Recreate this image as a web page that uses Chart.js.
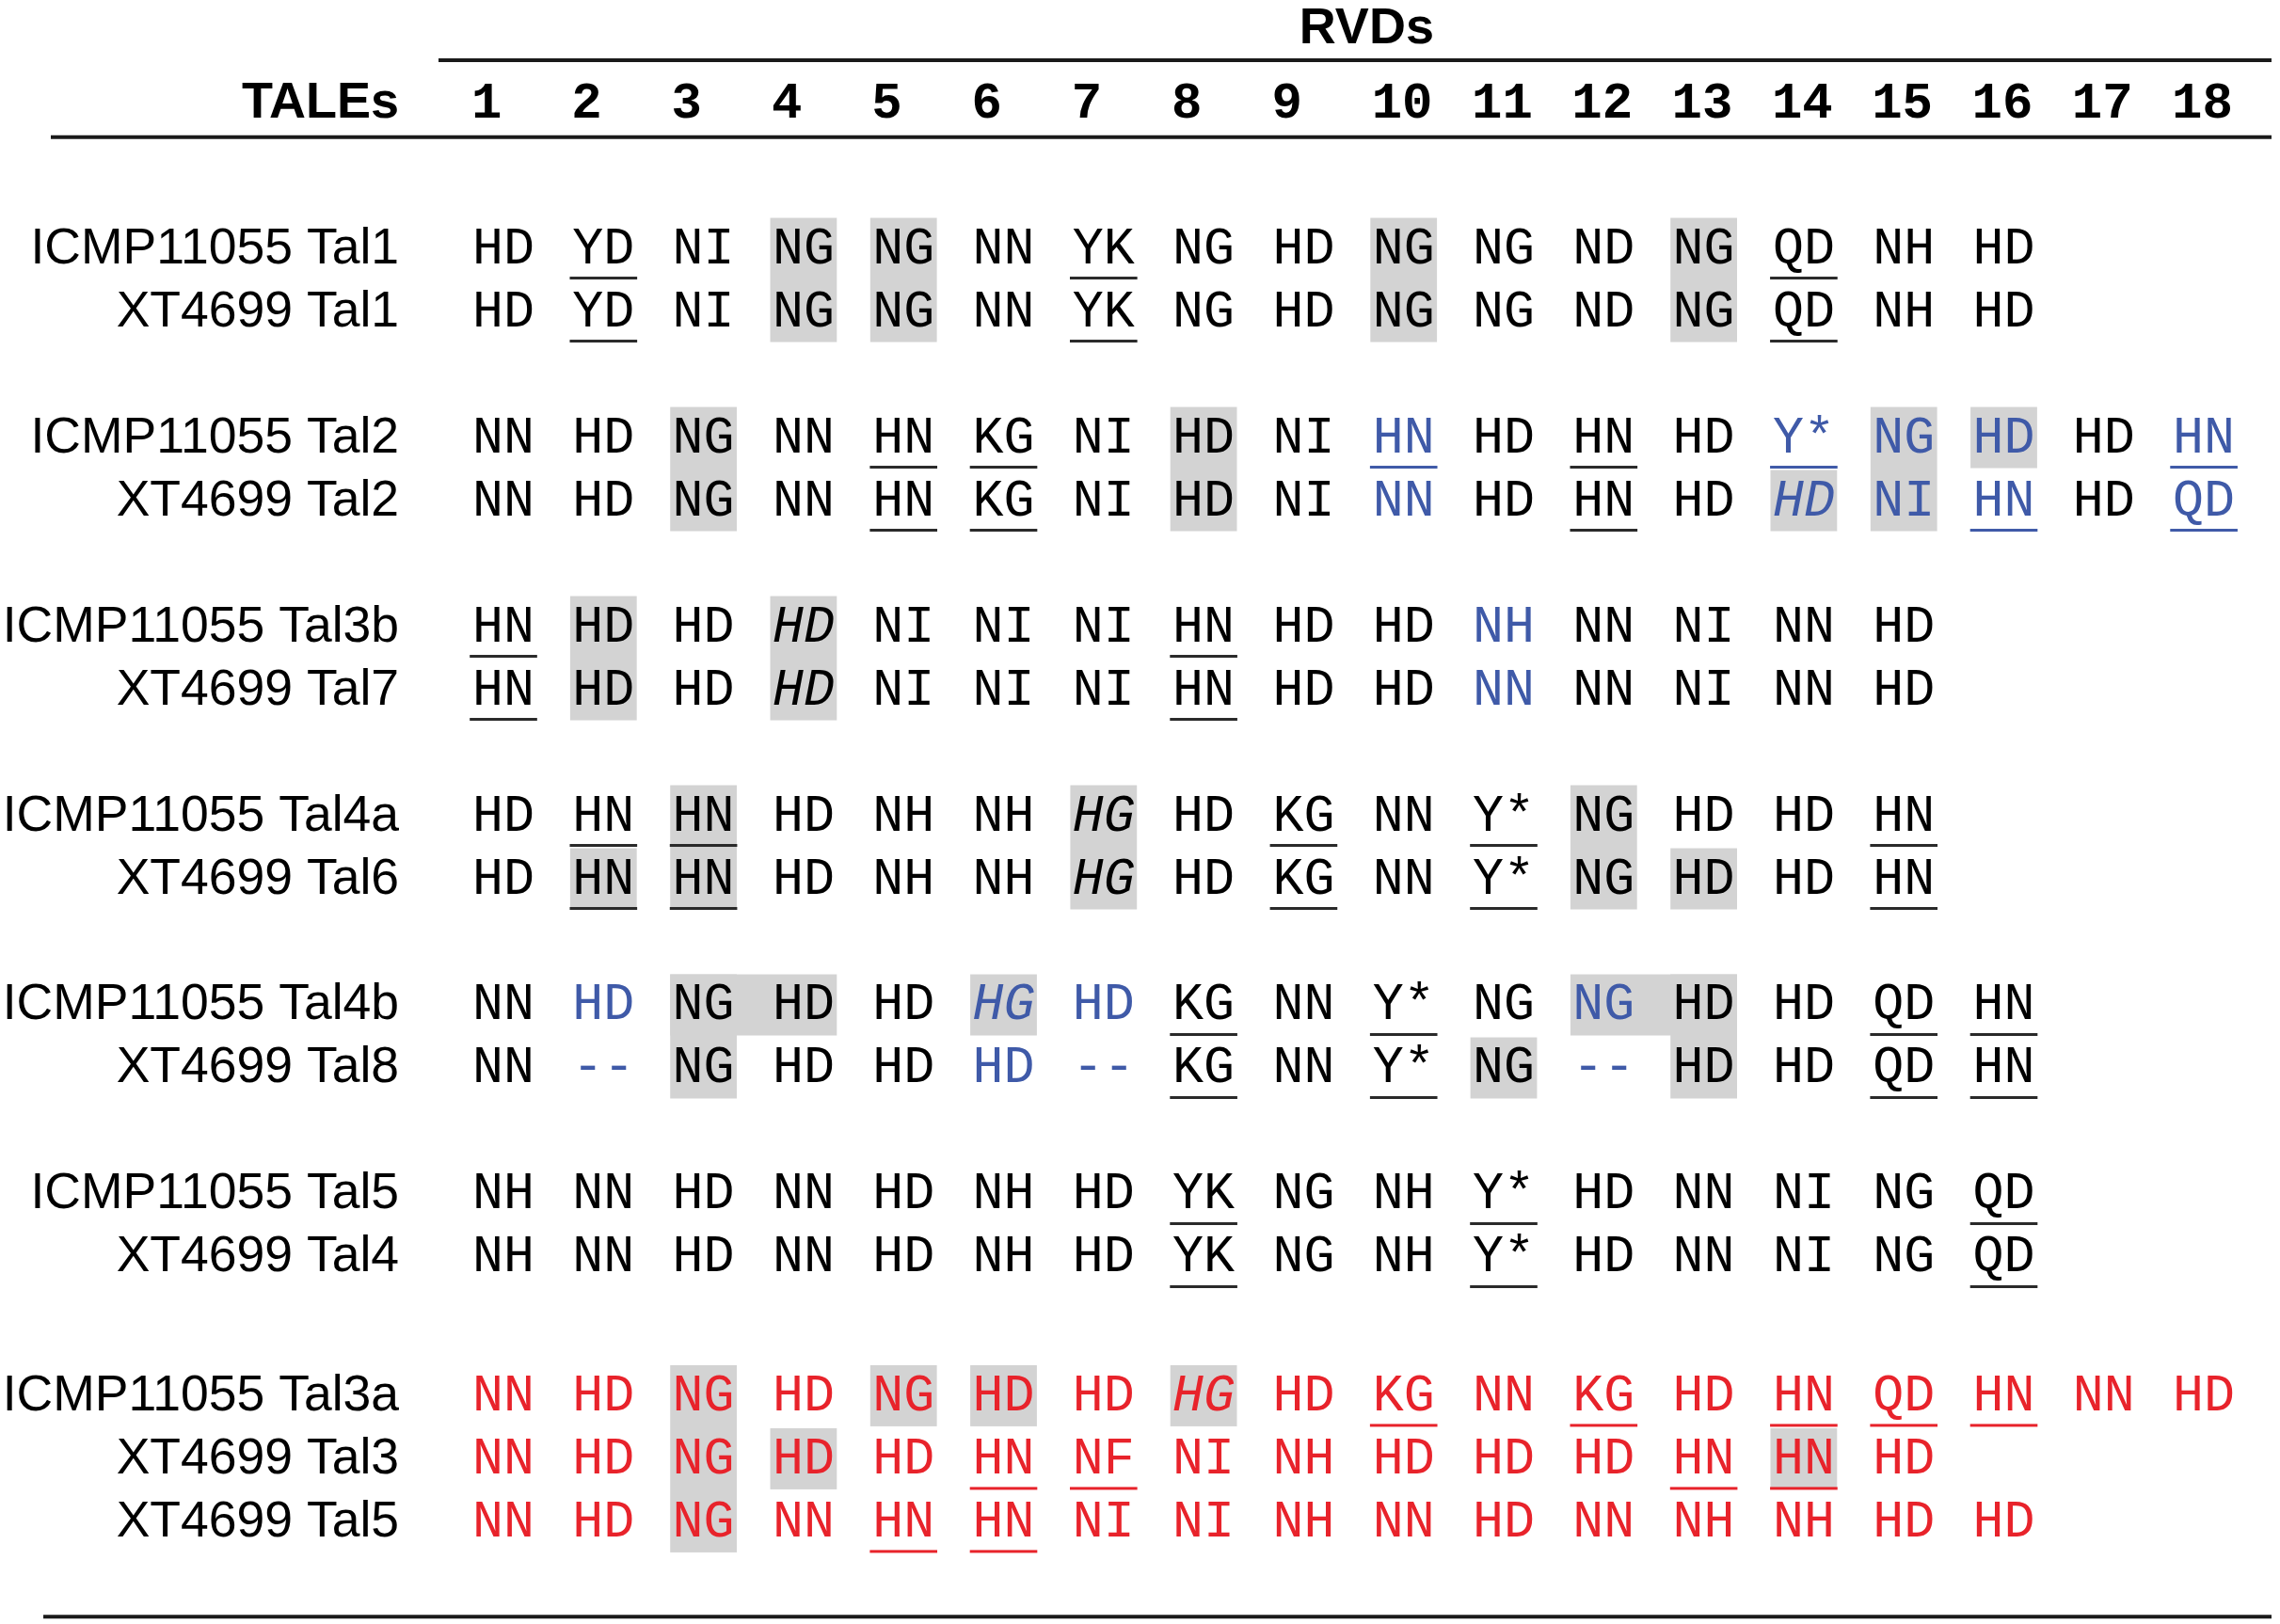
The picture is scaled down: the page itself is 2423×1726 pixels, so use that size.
<!DOCTYPE html>
<html><head><meta charset="UTF-8">
<title>TALE RVD alignment</title>
<script src="https://cdn.jsdelivr.net/npm/chart.js@4/dist/chart.umd.min.js"></script>
<style>
  html, body { margin: 0; padding: 0; background: #fff; }
  canvas { display: block; }
</style>
</head>
<body>
<canvas id="rvd-chart" width="2423" height="1726"></canvas>
<script>
// column headings (RVD positions)
var rvdNumbers = ['1', '2', '3', '4', '5', '6', '7', '8', '9', '10', '11', '12', '13', '14', '15', '16', '17', '18'];

var taleNames = [
  'ICMP11055 Tal1', 'XT4699 Tal1',
  'ICMP11055 Tal2', 'XT4699 Tal2',
  'ICMP11055 Tal3b', 'XT4699 Tal7',
  'ICMP11055 Tal4a', 'XT4699 Tal6',
  'ICMP11055 Tal4b', 'XT4699 Tal8',
  'ICMP11055 Tal5', 'XT4699 Tal4',
  'ICMP11055 Tal3a', 'XT4699 Tal3', 'XT4699 Tal5'
];

// one slot per text line, a blank slot between groups
var rowSlots = [0, 1, 3, 4, 6, 7, 9, 10, 12, 13, 15, 16, 18.2, 19.2, 20.2];

var rvdRows = [
  'HD YD NI NG NG NN YK NG HD NG NG ND NG QD NH HD',
  'HD YD NI NG NG NN YK NG HD NG NG ND NG QD NH HD',
  'NN HD NG NN HN KG NI HD NI HN HD HN HD Y* NG HD HD HN',
  'NN HD NG NN HN KG NI HD NI NN HD HN HD HD NI HN HD QD',
  'HN HD HD HD NI NI NI HN HD HD NH NN NI NN HD',
  'HN HD HD HD NI NI NI HN HD HD NN NN NI NN HD',
  'HD HN HN HD NH NH HG HD KG NN Y* NG HD HD HN',
  'HD HN HN HD NH NH HG HD KG NN Y* NG HD HD HN',
  'NN HD NG HD HD HG HD KG NN Y* NG NG HD HD QD HN',
  'NN -- NG HD HD HD -- KG NN Y* NG -- HD HD QD HN',
  'NH NN HD NN HD NH HD YK NG NH Y* HD NN NI NG QD',
  'NH NN HD NN HD NH HD YK NG NH Y* HD NN NI NG QD',
  'NN HD NG HD NG HD HD HG HD KG NN KG HD HN QD HN NN HD',
  'NN HD NG HD HD HN NF NI NH HD HD HD HN HN HD',
  'NN HD NG NN HN HN NI NI NH NN HD NN NH NH HD HD'
].map(function(s) { return s.split(' '); });

// underlined RVD columns, per row
var underlined = [
  [2, 7, 14], [2, 7, 14],
  [5, 6, 10, 12, 14, 18], [5, 6, 12, 16, 18],
  [1, 8], [1, 8],
  [2, 3, 9, 11, 15], [2, 3, 9, 11, 15],
  [8, 10, 15, 16], [8, 10, 15, 16],
  [8, 11, 16], [8, 11, 16],
  [10, 12, 14, 15, 16], [6, 7, 13, 14], [5, 6]
];

// blue RVD columns, per row
var blueCells = [
  [], [],
  [10, 14, 15, 16, 18], [10, 14, 15, 16, 18],
  [11], [11],
  [], [],
  [2, 6, 7, 12], [2, 6, 7, 12],
  [], [],
  [], [], []
];

// italic cells as [row, column]
var italicCells = [[3, 14], [4, 4], [5, 4], [6, 7], [7, 7], [8, 6], [12, 8]];

// rows printed in red
var redRows = [12, 13, 14];

// grey shading: [first row, last row, first column, last column]
var greyBoxes = [
  [0, 1, 4, 4], [0, 1, 5, 5], [0, 1, 10, 10], [0, 1, 13, 13],
  [2, 3, 3, 3], [2, 3, 8, 8], [3, 3, 14, 14], [2, 3, 15, 15], [2, 2, 16, 16],
  [4, 5, 2, 2], [4, 5, 4, 4],
  [7, 7, 2, 2], [6, 7, 3, 3], [6, 7, 7, 7], [6, 7, 12, 12], [7, 7, 13, 13],
  [8, 8, 3, 4], [8, 9, 3, 3], [8, 8, 6, 6], [8, 8, 12, 13], [8, 9, 13, 13], [9, 9, 11, 11],
  [12, 14, 3, 3], [12, 12, 5, 5], [12, 12, 6, 6], [12, 12, 8, 8], [13, 13, 4, 4], [13, 13, 14, 14]
];

var BLACK = '#000000', BLUE = '#3f5aa8', RED = '#e8232b', GREY = '#d3d3d3';
var cellFont = '"Liberation Mono", "Courier New", monospace';
var sansFont = '"Liberation Sans", Arial, sans-serif';

function isItalic(r, c) {
  return italicCells.some(function(p) { return p[0] === r && p[1] === c; });
}

function cellColor(r, c) {
  if (redRows.indexOf(r) >= 0) return RED;
  if (blueCells[r].indexOf(c) >= 0) return BLUE;
  return BLACK;
}

// draw text with its cap height centred on y
function capText(ctx, txt, x, y) {
  var m = ctx.measureText('H');
  ctx.fillText(txt, x, y + m.actualBoundingBoxAscent / 2);
}

var tablePlugin = {
  id: 'rvdTable',
  beforeDraw: function(chart) {
    var ctx = chart.ctx;
    ctx.save();
    ctx.fillStyle = '#fff';
    ctx.fillRect(0, 0, chart.width, chart.height);
    ctx.restore();
  },
  beforeDatasetsDraw: function(chart) {
    var ctx = chart.ctx, xs = chart.scales.x, ys = chart.scales.y;
    ctx.save();
    ctx.fillStyle = GREY;
    greyBoxes.forEach(function(b) {
      var left = xs.getPixelForValue(b[2] - 0.333);
      var right = xs.getPixelForValue(b[3] + 0.333);
      var top = ys.getPixelForValue(rowSlots[b[0]] - 0.44);
      var bottom = ys.getPixelForValue(rowSlots[b[1]] + 0.53);
      ctx.fillRect(left, top, right - left, bottom - top);
    });
    ctx.restore();
  },
  afterDatasetsDraw: function(chart) {
    var ctx = chart.ctx, xs = chart.scales.x, ys = chart.scales.y;
    var halfW = xs.getPixelForValue(1.337) - xs.getPixelForValue(1);
    ctx.save();

    // RVD cells
    chart.data.datasets.forEach(function(ds, r) {
      var meta = chart.getDatasetMeta(r);
      meta.data.forEach(function(pt, j) {
        var col = j + 1;
        var color = cellColor(r, col);
        ctx.font = (isItalic(r, col) ? 'italic ' : '') + '55px ' + cellFont;
        ctx.fillStyle = color;
        ctx.textAlign = 'center';
        capText(ctx, rvdRows[r][j], pt.x, pt.y);
        if (underlined[r].indexOf(col) >= 0) {
          var uy = ys.getPixelForValue(rowSlots[r] + 0.515);
          ctx.fillStyle = color === BLACK ? '#2a2a2a' : color;
          ctx.fillRect(pt.x - halfW, uy - 1.5, halfW * 2, 3);
        }
      });
    });

    // row labels
    ctx.font = '53.5px ' + sansFont;
    ctx.fillStyle = BLACK;
    ctx.textAlign = 'right';
    var labelX = xs.getPixelForValue(-0.044);
    taleNames.forEach(function(name, r) {
      capText(ctx, name, labelX, ys.getPixelForValue(rowSlots[r]));
    });

    // header
    var headY = ys.getPixelForValue(-2.3);
    ctx.font = 'bold 54px ' + sansFont;
    capText(ctx, 'TALEs', labelX, headY);
    ctx.textAlign = 'center';
    capText(ctx, 'RVDs', xs.getPixelForValue(9.63), ys.getPixelForValue(-3.49));
    ctx.font = 'bold 54px ' + cellFont;
    ctx.textAlign = 'left';
    rvdNumbers.forEach(function(n, i) {
      capText(ctx, n, xs.getPixelForValue(i + 1) - 34, headY);
    });

    // rules
    ctx.strokeStyle = '#1a1a1a';
    ctx.lineWidth = 4;
    [[0.351, -2.94], [-3.525, -1.72], [-3.6, 21.75]].forEach(function(l) {
      var yy = ys.getPixelForValue(l[1]);
      ctx.beginPath();
      ctx.moveTo(xs.getPixelForValue(l[0]), yy);
      ctx.lineTo(xs.getPixelForValue(18.676), yy);
      ctx.stroke();
    });
    ctx.restore();
  }
};

new Chart(document.getElementById('rvd-chart'), {
  type: 'scatter',
  data: {
    datasets: rvdRows.map(function(cells, r) {
      return {
        label: taleNames[r],
        data: cells.map(function(c, j) { return { x: j + 1, y: rowSlots[r] }; }),
        pointRadius: 0,
        pointHoverRadius: 0
      };
    })
  },
  options: {
    responsive: false,
    animation: false,
    devicePixelRatio: 1,
    events: [],
    layout: { padding: 0 },
    plugins: {
      legend: { display: false },
      tooltip: { enabled: false }
    },
    scales: {
      x: { type: 'linear', min: -4.033, max: 18.761, display: false },
      y: { type: 'linear', min: -3.896, max: 21.866, reverse: true, display: false }
    }
  },
  plugins: [tablePlugin]
});
</script>
</body></html>
